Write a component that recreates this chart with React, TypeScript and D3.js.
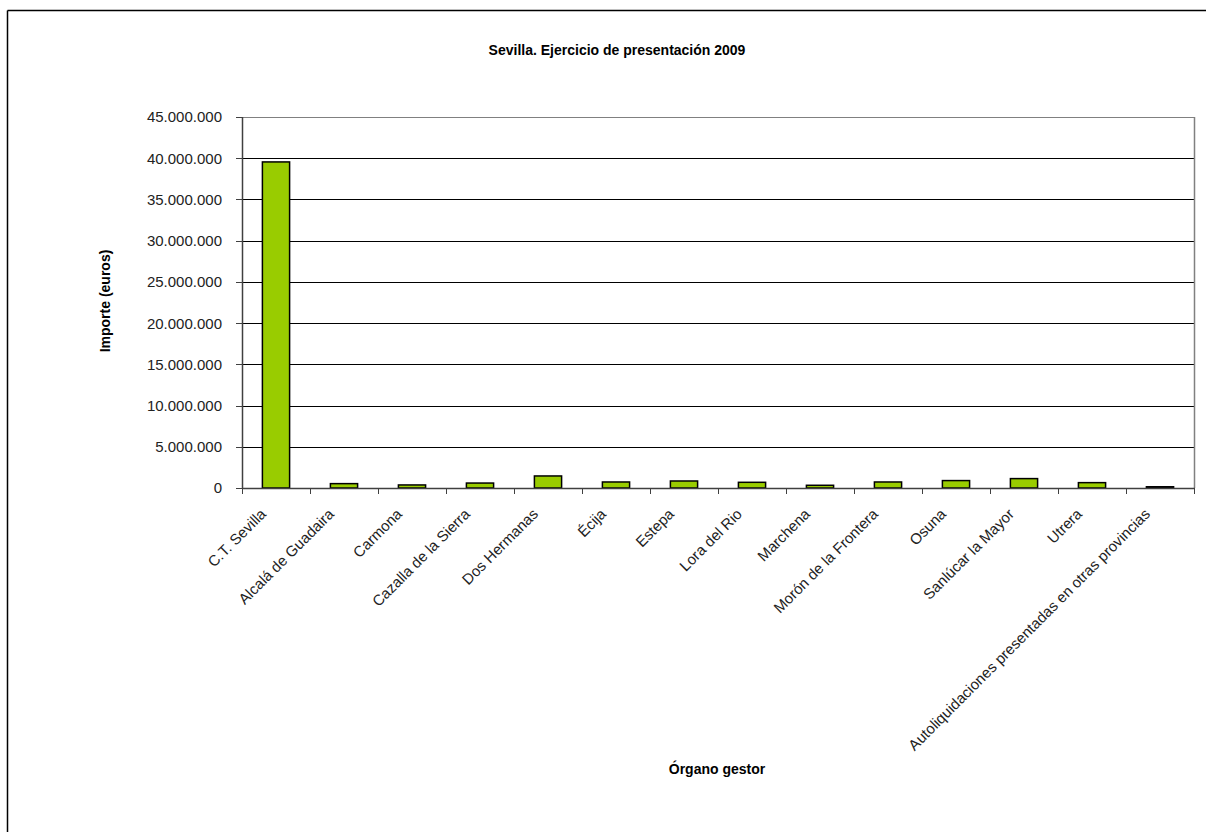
import React from "react";
import * as d3 from "d3";

const categories = [
  "C.T. Sevilla",
  "Alcalá de Guadaira",
  "Carmona",
  "Cazalla de la Sierra",
  "Dos Hermanas",
  "Écija",
  "Estepa",
  "Lora del Rio",
  "Marchena",
  "Morón de la Frontera",
  "Osuna",
  "Sanlúcar la Mayor",
  "Utrera",
  "Autoliquidaciones presentadas en otras provincias",
];
const values = [
  39550000, 530000, 370000, 600000, 1460000, 730000, 850000, 690000, 330000,
  730000, 900000, 1140000, 650000, 150000,
];
const yTicks = [0, 5000000, 10000000, 15000000, 20000000, 25000000, 30000000, 35000000, 40000000, 45000000];
const title = "Sevilla. Ejercicio de presentación 2009";
const yTitle = "Importe (euros)";
const xTitle = "Órgano gestor";

const W = 1206;
const H = 832;
const left = 242;
const right = 1194;
const top = 117;
const bottom = 488;

const fmt = (v: number) =>
  v === 0 ? "0" : d3.format(",")(v).replace(/,/g, ".");

export default function App() {
  const x = d3.scaleBand<string>().domain(categories).range([left, right]).paddingInner(0).paddingOuter(0);
  const y = d3.scaleLinear().domain([0, 45000000]).range([bottom, top]);
  const bw = x.bandwidth() / 2.5;
  const font = "'Liberation Sans', Arial, sans-serif";

  return (
    <svg
      width={W}
      height={H}
      style={{ position: "absolute", left: 0, top: 0, background: "#fff", overflow: "hidden" }}
      fontFamily={font}
    >
      <line x1={7.5} x2={W} y1={10.5} y2={10.5} stroke="#000" strokeWidth={1.5} />
      <line x1={7.5} x2={7.5} y1={10.5} y2={H} stroke="#000" strokeWidth={1.5} />
      <text x={617} y={55} textAnchor="middle" fontWeight="bold" fontSize={14}>
        {title}
      </text>
      {/* gridlines */}
      {yTicks.map((t) => (
        <line
          key={"g" + t}
          x1={left}
          x2={right}
          y1={Math.round(y(t)) + 0.5}
          y2={Math.round(y(t)) + 0.5}
          stroke={t === 45000000 ? "#808080" : "#000"}
          strokeWidth={1}
        />
      ))}
      {/* plot right border */}
      <line x1={right + 0.5} x2={right + 0.5} y1={top} y2={bottom} stroke="#808080" strokeWidth={1.5} />
      {/* bars */}
      {categories.map((c, i) => {
        const cx = (x(c) as number) + x.bandwidth() / 2;
        return (
          <rect
            key={c}
            x={cx - bw / 2}
            y={y(values[i])}
            width={bw}
            height={bottom - y(values[i])}
            fill="#99CC00"
            stroke="#000"
            strokeWidth={1.5}
          />
        );
      })}
      {/* y axis */}
      <line x1={left + 0.5} x2={left + 0.5} y1={top} y2={bottom} stroke="#404040" strokeWidth={1.5} />
      {yTicks.map((t) => (
        <g key={"t" + t}>
          <line x1={left - 6} x2={left} y1={Math.round(y(t)) + 0.5} y2={Math.round(y(t)) + 0.5} stroke="#404040" />
          <text x={222} y={y(t)} dy="0.36em" textAnchor="end" fontSize={15} fill="#222">
            {fmt(t)}
          </text>
        </g>
      ))}
      {/* x axis */}
      <line x1={left} x2={right + 1} y1={bottom + 0.5} y2={bottom + 0.5} stroke="#404040" strokeWidth={1.5} />
      {d3.range(categories.length + 1).map((i) => {
        const xx = Math.round(left + i * x.bandwidth()) + 0.5;
        return <line key={"xt" + i} x1={xx} x2={xx} y1={bottom} y2={bottom + 6} stroke="#404040" />;
      })}
      {categories.map((c) => {
        const cx = (x(c) as number) + x.bandwidth() / 2;
        return (
          <text
            key={"l" + c}
            transform={`translate(${cx - 9},${bottom + 27}) rotate(-45)`}
            textAnchor="end"
            fontSize={15}
            fill="#222"
          >
            {c}
          </text>
        );
      })}
      <text
        transform={`translate(110,301) rotate(-90)`}
        textAnchor="middle"
        fontWeight="bold"
        fontSize={14}
      >
        {yTitle}
      </text>
      <text x={717} y={774} textAnchor="middle" fontWeight="bold" fontSize={14}>
        {xTitle}
      </text>
    </svg>
  );
}
